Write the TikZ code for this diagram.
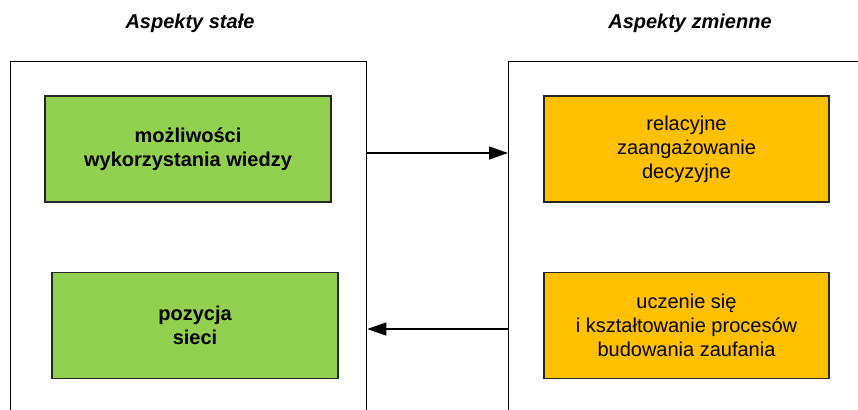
\documentclass[tikz,border=0pt]{standalone}
\usepackage{fontspec}
\setmainfont{Liberation Sans}
\usetikzlibrary{arrows.meta}
\definecolor{grn}{HTML}{92D050}
\definecolor{org}{HTML}{FFC000}
\begin{document}
\begin{tikzpicture}[x=1pt,y=-1pt,
  outer/.style={draw=black,line width=1.3pt,minimum width=356pt,minimum height=400pt,anchor=north west,inner sep=0pt},
  gbox/.style={draw=black!85,line width=1.1pt,fill=grn,minimum width=286pt,minimum height=106pt,align=center,font=\fontsize{20pt}{24pt}\selectfont\bfseries,inner sep=0pt},
  obox/.style={draw=black!85,line width=1.1pt,fill=org,minimum width=285pt,minimum height=106pt,align=center,font=\fontsize{20pt}{24pt}\selectfont,inner sep=0pt},
  ttl/.style={font=\fontsize{20pt}{24pt}\selectfont\bfseries\itshape},
  arr/.style={line width=1.3pt,-{Triangle[length=19pt,width=13pt]}}]
\clip (0,0) rectangle (858,409);
\node[outer] (L) at (10,61) {};
\node[outer,minimum width=400pt] (R) at (508,61) {};
\node[ttl] (t1) at (190,23) {Aspekty stałe};
\node[ttl] (t2) at (690,23) {Aspekty zmienne};
\node[gbox] (g1) at (188,149) {możliwości\\wykorzystania wiedzy};
\node[gbox] (g2) at (195,325.5) {pozycja\\sieci};
\node[obox] (o1) at (686.5,149) {relacyjne\\zaangażowanie\\decyzyjne};
\node[obox] (o2) at (686.5,325.5) {uczenie się\\i kształtowanie procesów\\budowania zaufania};
\coordinate (a1) at (0,153);
\coordinate (a2) at (0,329);
\draw[arr] (L.east |- a1) -- (R.west |- a1);
\draw[arr] (R.west |- a2) -- (L.east |- a2);
\end{tikzpicture}
\end{document}
